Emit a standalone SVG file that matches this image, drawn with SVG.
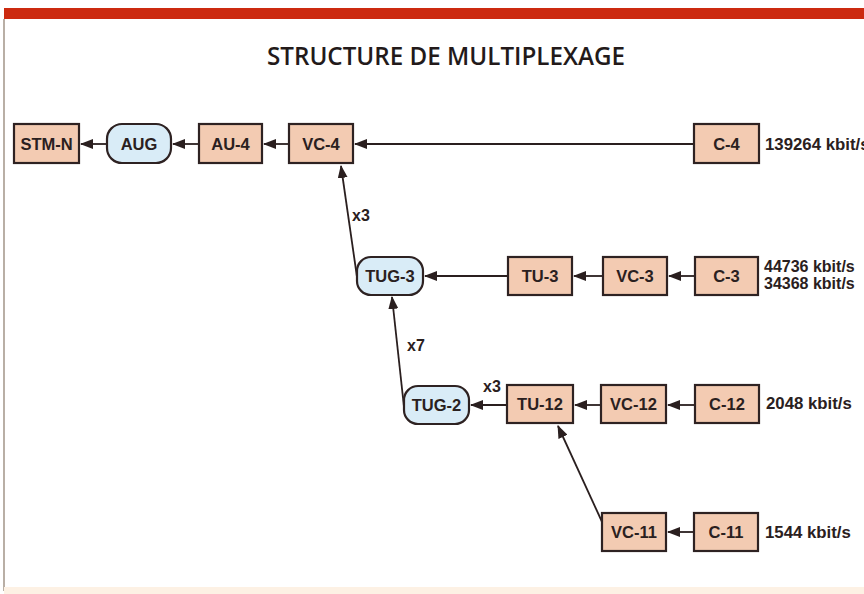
<svg xmlns="http://www.w3.org/2000/svg" width="864" height="594" viewBox="0 0 864 594">
  <defs>
    <marker id="arrow" viewBox="0 0 13 10" refX="12" refY="5" markerWidth="13" markerHeight="10" markerUnits="userSpaceOnUse" orient="auto">
      <path d="M0,0 L13,5 L0,10 Z" fill="#2a1f1f"/>
    </marker>
    <style>
      .box { fill: #f3cbb2; stroke: #2e2222; stroke-width: 2.2; }
      .grp { fill: #d9ecf7; stroke: #2e2222; stroke-width: 2.2; }
      .lbl { font-family: "Liberation Sans", Arial, sans-serif; font-weight: bold; font-size: 16.5px; fill: #2a2020; text-anchor: middle; }
      .rate { font-family: "Liberation Sans", Arial, sans-serif; font-weight: bold; font-size: 16.8px; fill: #2a2020; }
      .rate2 { font-size: 16px; }
      .mult { font-family: "Liberation Sans", Arial, sans-serif; font-weight: bold; font-size: 16px; fill: #2a2020; }
      .conn line { stroke: #2a1f1f; stroke-width: 1.8; marker-end: url(#arrow); }
    </style>
  </defs>

  <!-- page -->
  <rect x="0" y="0" width="864" height="594" fill="#ffffff"/>
  <rect x="4" y="8" width="860" height="11" fill="#cc2a10"/>
  <line x1="4" y1="19" x2="4" y2="591" stroke="#8a7a6a" stroke-width="1.2"/>
  <rect x="4" y="587" width="860" height="7" fill="#fdf1e4"/>

  <text x="446" y="65" font-family="'Open Sans', 'Liberation Sans', sans-serif" font-weight="600" font-size="25" fill="#231a1a" text-anchor="middle" textLength="358" lengthAdjust="spacingAndGlyphs">STRUCTURE DE MULTIPLEXAGE</text>

  <!-- connectors -->
  <g id="connectors" class="conn">
    <line x1="107" y1="144" x2="81" y2="144"/>
    <line x1="199" y1="144" x2="173" y2="144"/>
    <line x1="289" y1="144" x2="264" y2="144"/>
    <line x1="694" y1="144" x2="355" y2="144"/>
    <line x1="357" y1="277" x2="341" y2="166"/>
    <line x1="508" y1="276" x2="425" y2="276"/>
    <line x1="603" y1="276" x2="574" y2="276"/>
    <line x1="695" y1="276" x2="669" y2="276"/>
    <line x1="404" y1="407" x2="392" y2="297"/>
    <line x1="507" y1="405" x2="471" y2="405"/>
    <line x1="601" y1="405" x2="575" y2="405"/>
    <line x1="695" y1="405" x2="668" y2="405"/>
    <line x1="603" y1="524" x2="558" y2="426"/>
    <line x1="694" y1="532" x2="668" y2="532"/>
  </g>

  <text class="mult" x="352" y="221">x3</text>
  <text class="mult" x="407" y="351">x7</text>
  <text class="mult" x="483" y="392">x3</text>

  <g id="stm-n"><rect class="box" x="14" y="124" width="65" height="39"/><text class="lbl" x="46.5" y="150">STM-N</text></g>
  <g id="aug"><rect class="grp" x="107" y="124" width="64" height="39" rx="15"/><text class="lbl" x="139" y="150">AUG</text></g>
  <g id="au-4"><rect class="box" x="199" y="124" width="63" height="39"/><text class="lbl" x="230.5" y="150">AU-4</text></g>
  <g id="vc-4"><rect class="box" x="289" y="124" width="64" height="39"/><text class="lbl" x="321" y="150">VC-4</text></g>
  <g id="c-4"><rect class="box" x="694" y="124" width="65" height="39"/><text class="lbl" x="726.5" y="150">C-4</text></g>
  <text class="rate" x="765" y="150">139264 kbit/s</text>

  <g id="tug-3"><rect class="grp" x="357" y="257" width="66" height="38" rx="14"/><text class="lbl" x="390" y="282">TUG-3</text></g>
  <g id="tu-3"><rect class="box" x="508" y="257" width="64" height="38"/><text class="lbl" x="540" y="282">TU-3</text></g>
  <g id="vc-3"><rect class="box" x="603" y="257" width="64" height="38"/><text class="lbl" x="635" y="282">VC-3</text></g>
  <g id="c-3"><rect class="box" x="695" y="257" width="63" height="38"/><text class="lbl" x="726.5" y="282">C-3</text></g>
  <text class="rate rate2" x="764" y="272">44736 kbit/s</text>
  <text class="rate rate2" x="764" y="289">34368 kbit/s</text>

  <g id="tug-2"><rect class="grp" x="404" y="386" width="65" height="38" rx="14"/><text class="lbl" x="436.5" y="411">TUG-2</text></g>
  <g id="tu-12"><rect class="box" x="507" y="385" width="66" height="38"/><text class="lbl" x="540" y="410">TU-12</text></g>
  <g id="vc-12"><rect class="box" x="601" y="385" width="65" height="38"/><text class="lbl" x="633.5" y="410">VC-12</text></g>
  <g id="c-12"><rect class="box" x="695" y="385" width="64" height="38"/><text class="lbl" x="727" y="410">C-12</text></g>
  <text class="rate" x="766" y="409">2048 kbit/s</text>

  <g id="vc-11"><rect class="box" x="602" y="513" width="64" height="38"/><text class="lbl" x="634" y="538">VC-11</text></g>
  <g id="c-11"><rect class="box" x="694" y="513" width="64" height="38"/><text class="lbl" x="726" y="538">C-11</text></g>
  <text class="rate" x="765" y="538">1544 kbit/s</text>
</svg>
